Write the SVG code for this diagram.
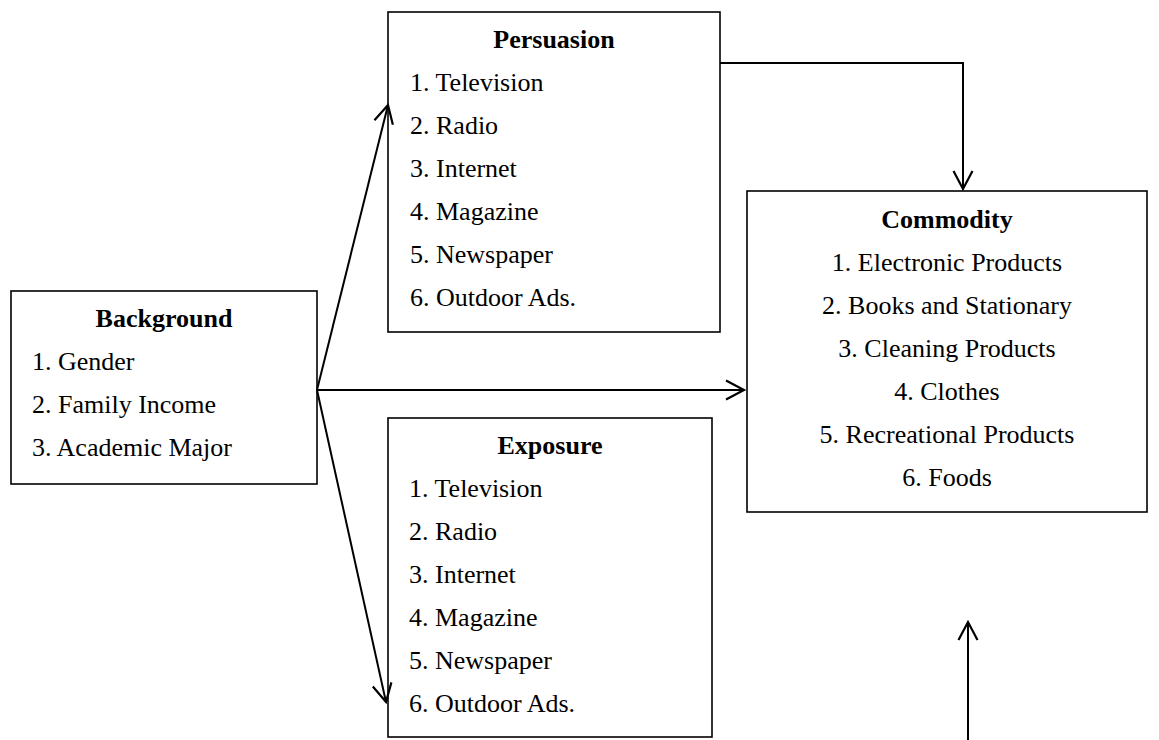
<svg xmlns="http://www.w3.org/2000/svg" width="1159" height="740" viewBox="0 0 1159 740">
<style>
.box{fill:#fff;stroke:#000;stroke-width:1.6}
.t{font-family:"Liberation Serif","Times New Roman",serif;font-size:26px;fill:#000}
.h{font-weight:bold;text-anchor:middle}
.c{text-anchor:middle}
.con{fill:none;stroke:#000;stroke-width:2}
</style>
<defs>
<marker id="arr" markerUnits="userSpaceOnUse" markerWidth="26" markerHeight="26" viewBox="-21 -13 24 26" refX="0" refY="0" orient="auto">
<path d="M-18,-9.5 L0,0 L-18,9.5" fill="none" stroke="#000" stroke-width="2.2"/>
</marker>
</defs>
<rect width="1159" height="740" fill="#fff"/>
<g id="background">
<rect class="box" x="11" y="291" width="306" height="193"/>
<text class="t h" x="164" y="327">Background</text>
<text class="t" x="32" y="370">1. Gender</text>
<text class="t" x="32" y="413">2. Family Income</text>
<text class="t" x="32" y="456">3. Academic Major</text>
</g>
<g id="persuasion">
<rect class="box" x="388" y="12" width="332" height="320"/>
<text class="t h" x="554" y="48">Persuasion</text>
<text class="t" x="410" y="91">1. Television</text>
<text class="t" x="410" y="134">2. Radio</text>
<text class="t" x="410" y="177">3. Internet</text>
<text class="t" x="410" y="220">4. Magazine</text>
<text class="t" x="410" y="263">5. Newspaper</text>
<text class="t" x="410" y="306">6. Outdoor Ads.</text>
</g>
<g id="exposure">
<rect class="box" x="388" y="418" width="324" height="319"/>
<text class="t h" x="550" y="454">Exposure</text>
<text class="t" x="409" y="497">1. Television</text>
<text class="t" x="409" y="540">2. Radio</text>
<text class="t" x="409" y="583">3. Internet</text>
<text class="t" x="409" y="626">4. Magazine</text>
<text class="t" x="409" y="669">5. Newspaper</text>
<text class="t" x="409" y="712">6. Outdoor Ads.</text>
</g>
<g id="commodity">
<rect class="box" x="747" y="191" width="400" height="321"/>
<text class="t h" x="947" y="228">Commodity</text>
<text class="t c" x="947" y="271">1. Electronic Products</text>
<text class="t c" x="947" y="314">2. Books and Stationary</text>
<text class="t c" x="947" y="357">3. Cleaning Products</text>
<text class="t c" x="947" y="400">4. Clothes</text>
<text class="t c" x="947" y="443">5. Recreational Products</text>
<text class="t c" x="947" y="486">6. Foods</text>
</g>
<g id="connectors">
<path class="con" d="M317,390 L388,105" marker-end="url(#arr)"/>
<path class="con" d="M317,390 L386,702" marker-end="url(#arr)"/>
<path class="con" d="M317,390 L744,390" marker-end="url(#arr)"/>
<path class="con" d="M720,63 L963,63 L963,189" marker-end="url(#arr)"/>
<path class="con" d="M968,740 L968,622" marker-end="url(#arr)"/>
</g>
</svg>
